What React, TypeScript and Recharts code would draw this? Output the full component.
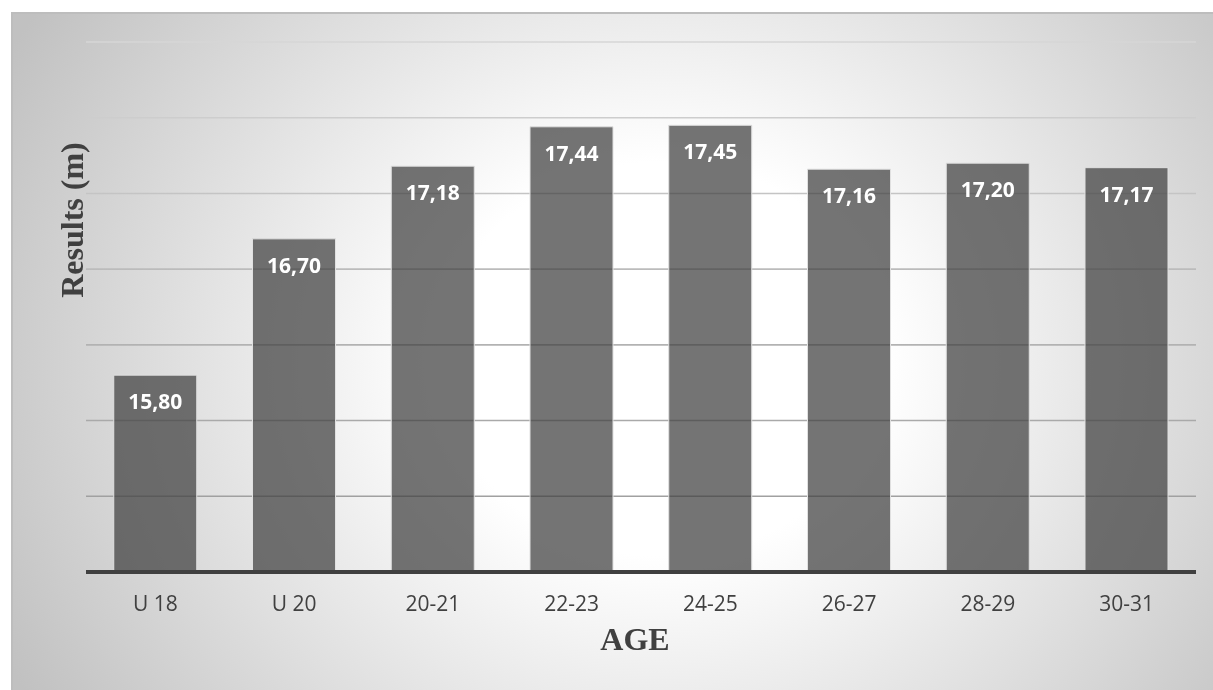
import React from 'react';
import { BarChart, Bar, XAxis, YAxis, CartesianGrid, LabelList, Label } from 'recharts';

// Best results by age group (metres)
const ageGroups: string[] = ['U 18', 'U 20', '20-21', '22-23', '24-25', '26-27', '28-29', '30-31'];
const results: number[] = [15.8, 16.7, 17.18, 17.44, 17.45, 17.16, 17.2, 17.17];
const yTicks: number[] = [14.5, 15, 15.5, 16, 16.5, 17, 17.5, 18];

const data = ageGroups.map((age, i) => ({ age, result: results[i] }));

const formatResult = (v: number) => v.toFixed(2).replace('.', ',');

const SERIF = '"Liberation Serif", "Times New Roman", serif';
const SANS = '"Open Sans", "Noto Sans", sans-serif';

const YTitle = (props: any) => {
  const vb = props.viewBox || {};
  const x = (vb.x ?? 0) + 70;
  const y = (vb.y ?? 0) + 178;
  return (
    <text
      x={x}
      y={y}
      transform={`rotate(-90, ${x}, ${y})`}
      textAnchor="middle"
      fill="#404040"
      fontFamily={SERIF}
      fontWeight="bold"
      fontSize={32}
    >
      Results (m)
    </text>
  );
};

const XTitle = (props: any) => {
  const vb = props.viewBox || {};
  const x = (vb.x ?? 0) + (vb.width ?? 0) / 2 - 6;
  const y = (vb.y ?? 0) + 78;
  return (
    <text x={x} y={y} textAnchor="middle" fill="#404040" fontFamily={SERIF} fontWeight="bold" fontSize={32}>
      AGE
    </text>
  );
};

// value axis carries gridlines only, no tick text
const NoTick = () => null;

export default function App() {
  return (
    <div
      style={{
        position: 'fixed',
        left: 11,
        top: 12,
        width: 1200,
        height: 676,
        borderTop: '2px solid #bdbdbd',
        borderLeft: '2px solid #bdbdbd',
        background:
          'radial-gradient(ellipse 740px 656px at 650px 345px, #ffffff 0%, #ffffff 30%, #c1c1c1 100%)',
        overflow: 'hidden',
      }}
    >
      <BarChart
        width={1200}
        height={676}
        data={data}
        margin={{ top: 28, right: 17, left: 0, bottom: 0 }}
        barCategoryGap="20%"
      >
        <defs>
          {/* gridlines darken towards the baseline */}
          <linearGradient id="gridShade" gradientUnits="userSpaceOnUse" x1="0" y1="28" x2="0" y2="558">
            <stop offset="0%" stopColor="#d6d6d6" />
            <stop offset="100%" stopColor="#989898" />
          </linearGradient>
        </defs>
        <CartesianGrid
          vertical={false}
          horizontalValues={yTicks}
          stroke="url(#gridShade)"
          strokeWidth={1.6}
        />
        <YAxis
          type="number"
          domain={[14.5, 18]}
          ticks={yTicks}
          width={73}
          tick={NoTick}
          tickLine={false}
          axisLine={false}
          allowDataOverflow
        >
          <Label content={YTitle} />
        </YAxis>
        <XAxis
          dataKey="age"
          height={118}
          tickLine={false}
          tickSize={6}
          tickMargin={18}
          axisLine={{ stroke: '#404040', strokeWidth: 4 }}
          tick={{ fill: '#404040', fontSize: 21, fontFamily: SANS }}
          interval={0}
        >
          <Label content={XTitle} />
        </XAxis>
        <Bar
          dataKey="result"
          fill="#404040"
          fillOpacity={0.73}
          stroke="#e0e0e0"
          strokeWidth={1}
          isAnimationActive={false}
        >
          <LabelList
            dataKey="result"
            position="insideTop"
            offset={19}
            formatter={(v: any) => formatResult(Number(v))}
            fill="#ffffff"
            fontSize={21}
            fontWeight="bold"
            fontFamily={SANS}
          />
        </Bar>
      </BarChart>
    </div>
  );
}
